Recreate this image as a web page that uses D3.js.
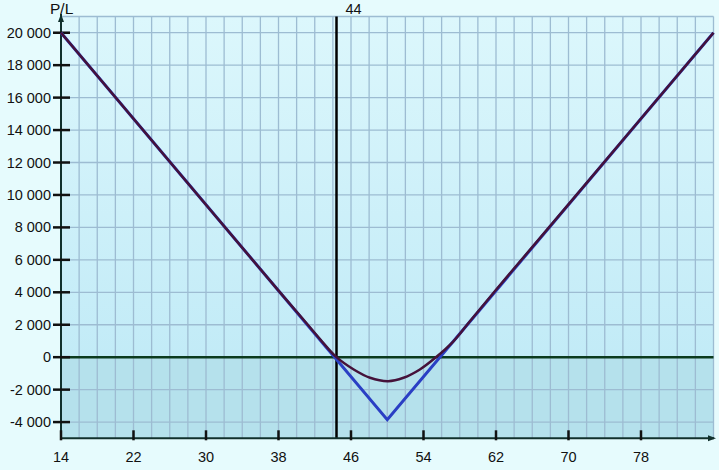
<!DOCTYPE html>
<meta charset="utf-8">
<style>
body { margin: 0; background: #e6fbfd; }
text { font-family: "Liberation Sans", Arial, sans-serif; font-size: 14.5px; fill: #111; }
</style>
<body>
<script src="https://d3js.org/d3.v7.min.js"></script>
<script>
// expiry payoff (blue)
var expiryPrice = [14, 50, 86],
    expiryPL = [20000, -3850, 20000];

// current P/L curve (dark)
var curvePrice = [14, 30, 38, 41, 42.6, 44.4, 46.3, 48.1, 50.1, 51.8, 53.6, 55.3, 57.3, 59.1, 62.1, 70, 86],
    curvePL = [20000, 9400, 4100, 2150, 1100, 0, -760, -1270, -1480, -1270, -760, -40, 980, 2200, 4220, 9420, 20000];

var spot = 44.4;
var xTicks = [14, 22, 30, 38, 46, 54, 62, 70, 78],
    yTicks = [-4000, -2000, 0, 2000, 4000, 6000, 8000, 10000, 12000, 14000, 16000, 18000, 20000];

var width = 719,
    height = 470;

var x = d3.scaleLinear().domain([14, 86]).range([61, 713.5]),
    y = d3.scaleLinear().domain([-5000, 21000]).range([438.3, 16.5]);

var fmt = d3.formatLocale({decimal: ".", thousands: " ", grouping: [3], currency: ["", ""], minus: "-"}).format(",d");

var svg = d3.select("body").append("svg")
    .attr("width", width)
    .attr("height", height);

var defs = svg.append("defs");
var grad = defs.append("linearGradient").attr("id", "bg")
    .attr("x1", 0).attr("y1", 0).attr("x2", 0).attr("y2", 1);
grad.append("stop").attr("offset", "0%").attr("stop-color", "#dcf7fc");
grad.append("stop").attr("offset", "100%").attr("stop-color", "#c2ebf7");

// plot background
svg.append("rect")
    .attr("x", x(14)).attr("y", y(21000))
    .attr("width", x(86) - x(14)).attr("height", y(0) - y(21000))
    .attr("fill", "url(#bg)");
svg.append("rect")
    .attr("x", x(14)).attr("y", y(0))
    .attr("width", x(86) - x(14)).attr("height", y(-5000) - y(0))
    .attr("fill", "#b5e1ec");

// grid
var g = svg.append("g").attr("stroke", "#9dbcd2").attr("stroke-width", 1.3);
g.selectAll(".vg").data(d3.range(16, 87, 2)).enter().append("line")
    .attr("x1", d => x(d)).attr("x2", d => x(d))
    .attr("y1", y(21000)).attr("y2", y(-5000));
g.selectAll(".hg").data(yTicks.concat([21000])).enter().append("line")
    .attr("x1", x(14)).attr("x2", x(86))
    .attr("y1", d => y(d)).attr("y2", d => y(d));

// zero line
svg.append("line")
    .attr("x1", x(14)).attr("x2", x(86))
    .attr("y1", y(0)).attr("y2", y(0))
    .attr("stroke", "#0b3b1e").attr("stroke-width", 2.5);

// spot line
svg.append("line")
    .attr("x1", x(spot)).attr("x2", x(spot))
    .attr("y1", y(21000)).attr("y2", y(-5000))
    .attr("stroke", "#000").attr("stroke-width", 2.5);
svg.append("text")
    .attr("x", x(spot) + 9).attr("y", 14)
    .text(d3.format("d")(spot));

// axes
var axisColor = "#10302c";
svg.append("line")
    .attr("x1", x(14)).attr("x2", x(14))
    .attr("y1", y(-5000)).attr("y2", 14)
    .attr("stroke", axisColor).attr("stroke-width", 2);
svg.append("path")
    .attr("d", "M" + (x(14) - 3) + ",22L" + x(14) + ",14L" + (x(14) + 3) + ",22Z")
    .attr("fill", axisColor);
svg.append("line")
    .attr("x1", x(14)).attr("x2", 714)
    .attr("y1", y(-5000)).attr("y2", y(-5000))
    .attr("stroke", axisColor).attr("stroke-width", 2);
svg.append("path")
    .attr("d", "M708," + (y(-5000) - 3) + "L716," + y(-5000) + "L708," + (y(-5000) + 3) + "Z")
    .attr("fill", axisColor);

svg.selectAll(".yt").data(yTicks).enter().append("line")
    .attr("x1", x(14) - 8).attr("x2", x(14) + 9)
    .attr("y1", d => y(d)).attr("y2", d => y(d))
    .attr("stroke", "#111").attr("stroke-width", 2.5);
svg.selectAll(".yl").data(yTicks).enter().append("text")
    .attr("x", 51).attr("y", d => y(d) + 5)
    .attr("text-anchor", "end")
    .text(d => fmt(d));

svg.selectAll(".xt").data(xTicks).enter().append("line")
    .attr("x1", d => x(d)).attr("x2", d => x(d))
    .attr("y1", y(-5000) - 8).attr("y2", y(-5000) + 2)
    .attr("stroke", "#111").attr("stroke-width", 2.5);
svg.selectAll(".xl").data(xTicks).enter().append("text")
    .attr("x", d => x(d)).attr("y", 462)
    .attr("text-anchor", "middle")
    .text(d => d);

svg.append("text").attr("x", 50).attr("y", 14).style("font-size", "15.5px").text("P/L");

// lines
var line = d3.line().x(d => x(d[0])).y(d => y(d[1]));
svg.append("path")
    .datum(d3.zip(expiryPrice, expiryPL))
    .attr("d", line)
    .attr("fill", "none")
    .attr("stroke", "#2a3fc4")
    .attr("stroke-width", 3);
svg.append("path")
    .datum(d3.zip(curvePrice, curvePL))
    .attr("d", line.curve(d3.curveCatmullRom))
    .attr("fill", "none")
    .attr("stroke", "#45123a")
    .attr("stroke-width", 2.5);
</script>
</body>
